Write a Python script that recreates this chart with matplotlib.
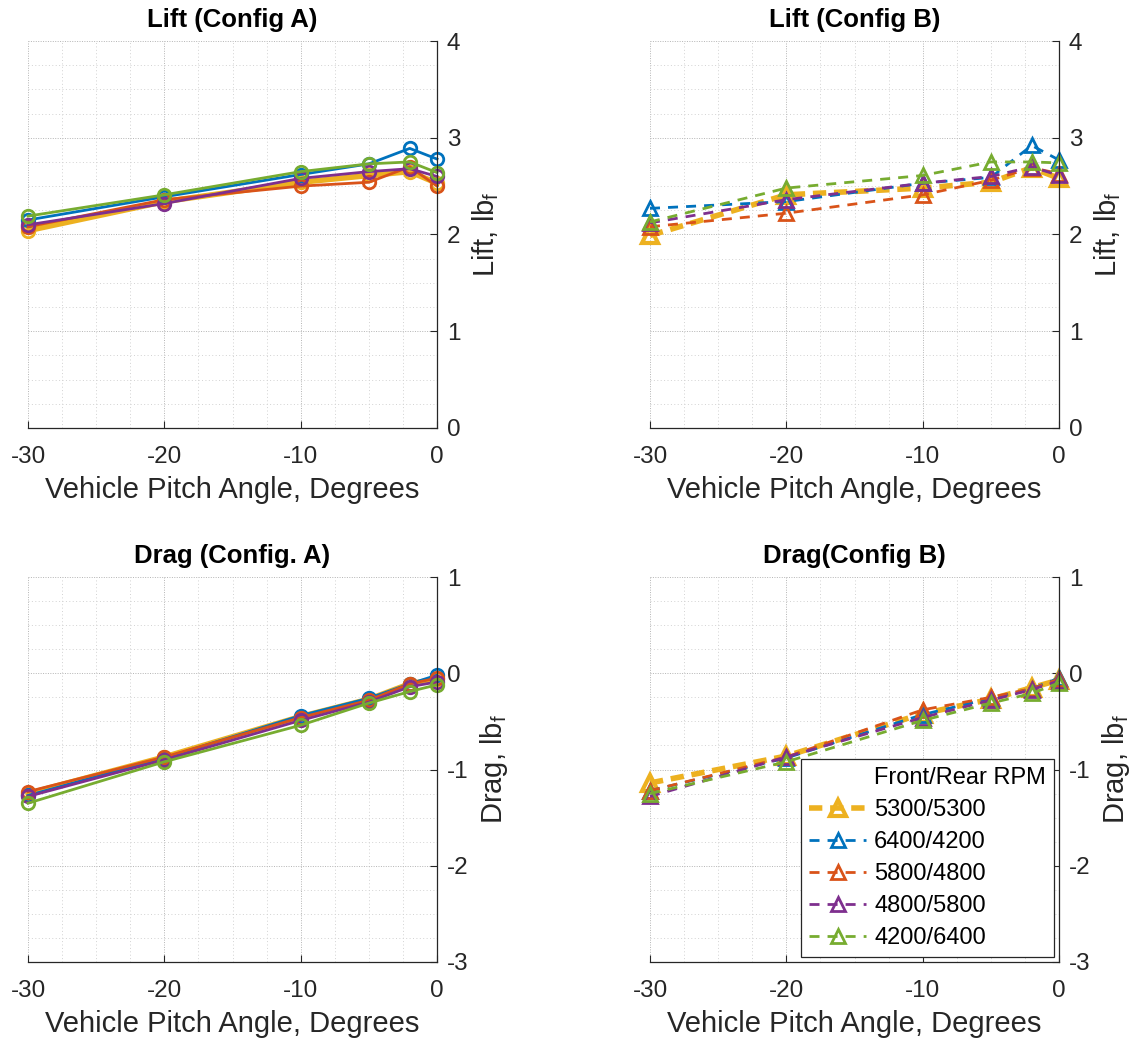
import numpy as np
import matplotlib.pyplot as plt
from matplotlib.ticker import MultipleLocator

plt.rcParams['font.family'] = ['Liberation Sans', 'DejaVu Sans']
plt.rcParams['mathtext.fontset'] = 'custom'
plt.rcParams['mathtext.rm'] = 'Liberation Sans'
plt.rcParams['axes.unicode_minus'] = False

# Data
pitch = [-30, -20, -10, -5, -2, 0]
labels = ['5300/5300', '6400/4200', '5800/4800', '4800/5800', '4200/6400']
colors = ['#EDB120', '#0072BD', '#D95319', '#7E2F8E', '#77AC30']

lift_a = [
    [2.04, 2.34, 2.54, 2.61, 2.65, 2.53],
    [2.15, 2.39, 2.62, 2.73, 2.89, 2.78],
    [2.08, 2.36, 2.50, 2.54, 2.70, 2.50],
    [2.10, 2.32, 2.58, 2.65, 2.68, 2.60],
    [2.19, 2.41, 2.65, 2.73, 2.75, 2.64],
]
lift_b = [
    [1.99, 2.41, 2.48, 2.54, 2.69, 2.58],
    [2.27, 2.34, 2.53, 2.59, 2.92, 2.77],
    [2.08, 2.22, 2.41, 2.56, 2.69, 2.63],
    [2.12, 2.36, 2.53, 2.60, 2.70, 2.61],
    [2.13, 2.48, 2.61, 2.75, 2.75, 2.74],
]
drag_a = [
    [-1.25, -0.87, -0.45, -0.27, -0.11, -0.06],
    [-1.27, -0.88, -0.44, -0.26, -0.11, -0.02],
    [-1.23, -0.87, -0.46, -0.28, -0.11, -0.05],
    [-1.28, -0.90, -0.49, -0.30, -0.14, -0.09],
    [-1.35, -0.92, -0.54, -0.31, -0.19, -0.12],
]
drag_b = [
    [-1.14, -0.86, -0.42, -0.27, -0.15, -0.07],
    [-1.22, -0.88, -0.43, -0.26, -0.16, -0.05],
    [-1.22, -0.87, -0.38, -0.25, -0.16, -0.06],
    [-1.28, -0.87, -0.46, -0.28, -0.17, -0.08],
    [-1.25, -0.92, -0.49, -0.31, -0.21, -0.10],
]

fig = plt.figure(figsize=(11.47, 10.5), dpi=100)
W, H = 1147, 1050
pos = {
    'tl': [28 / W, 1 - 428 / H, 409 / W, 387 / H],
    'tr': [650 / W, 1 - 428 / H, 409 / W, 387 / H],
    'bl': [28 / W, 1 - 962 / H, 409 / W, 385 / H],
    'br': [650 / W, 1 - 962 / H, 409 / W, 385 / H],
}


def style_axes(ax, title, ylabel, ylim):
    ax.set_xlim(-30, 0)
    ax.set_ylim(*ylim)
    ax.set_xticks([-30, -20, -10, 0])
    ax.set_yticks(np.arange(ylim[0], ylim[1] + 1, 1))
    ax.xaxis.set_minor_locator(MultipleLocator(2.5))
    ax.yaxis.set_minor_locator(MultipleLocator(0.25))
    ax.yaxis.tick_right()
    ax.yaxis.set_label_position('right')
    for s in ['left', 'top']:
        ax.spines[s].set_visible(False)
    for s in ['right', 'bottom']:
        ax.spines[s].set_color('#262626')
        ax.spines[s].set_linewidth(0.9)
    ax.tick_params(which='both', direction='in', colors='#262626', labelsize=17.5)
    ax.tick_params(which='minor', length=0)
    ax.tick_params(which='major', length=5)
    ax.tick_params(axis='x', which='major', pad=13)
    ax.tick_params(axis='y', which='major', pad=7)
    ax.grid(True, which='major', color='#b4b4b4', linewidth=0.7, dashes=(1, 1.5))
    ax.grid(True, which='minor', color='#d2d2d2', linewidth=0.7, dashes=(1, 2.5))
    ax.set_axisbelow(True)
    ax.set_title(title, fontsize=18.5, fontweight='bold', pad=10)
    ax.set_xlabel('Vehicle Pitch Angle, Degrees', fontsize=21, color='#262626', labelpad=6)
    ax.set_ylabel(ylabel, fontsize=21, color='#262626', labelpad=7)


def plot_a(ax, data):
    for i, (vals, c) in enumerate(zip(data, colors)):
        lw = 4 if i == 0 else 2
        ax.plot(pitch, vals, '-o', color=c, lw=lw, ms=9, mew=2, mfc='none',
                label=labels[i], clip_on=False)


def plot_b(ax, data):
    for i, (vals, c) in enumerate(zip(data, colors)):
        if i == 0:
            ax.plot(pitch, vals, '--^', color=c, lw=4, ms=11, mew=3, mfc='none',
                    dashes=(2.4, 1.4), label=labels[i], clip_on=False)
        else:
            ax.plot(pitch, vals, '--^', color=c, lw=2, ms=10, mew=2, mfc='none',
                    dashes=(3.6, 2.9), label=labels[i], clip_on=False)


ax1 = fig.add_axes(pos['tl'])
plot_a(ax1, lift_a)
style_axes(ax1, 'Lift (Config A)', 'Lift, lb$_\\mathrm{f}$', (0, 4))

ax2 = fig.add_axes(pos['tr'])
plot_b(ax2, lift_b)
style_axes(ax2, 'Lift (Config B)', 'Lift, lb$_\\mathrm{f}$', (0, 4))

ax3 = fig.add_axes(pos['bl'])
plot_a(ax3, drag_a)
style_axes(ax3, 'Drag (Config. A)', 'Drag, lb$_\\mathrm{f}$', (-3, 1))

ax4 = fig.add_axes(pos['br'])
plot_b(ax4, drag_b)
style_axes(ax4, 'Drag(Config B)', 'Drag, lb$_\\mathrm{f}$', (-3, 1))

# legend title placed as an entry without a visible handle, left-aligned with labels
title_handle, = ax4.plot([], [], color='none')
handles, hlabels = ax4.get_legend_handles_labels()
handles = [title_handle] + handles[:5]
hlabels = ['Front/Rear RPM'] + hlabels[:5]
leg = ax4.legend(handles, hlabels, loc='lower right', fontsize=17,
                 handlelength=2.4, frameon=True, fancybox=False,
                 borderaxespad=0.2, labelspacing=0.42, handletextpad=0.35,
                 borderpad=0.35)
leg.get_frame().set_edgecolor('#262626')
leg.get_frame().set_linewidth(0.9)
leg.get_frame().set_alpha(1)

plt.savefig('out.png', dpi=100)
